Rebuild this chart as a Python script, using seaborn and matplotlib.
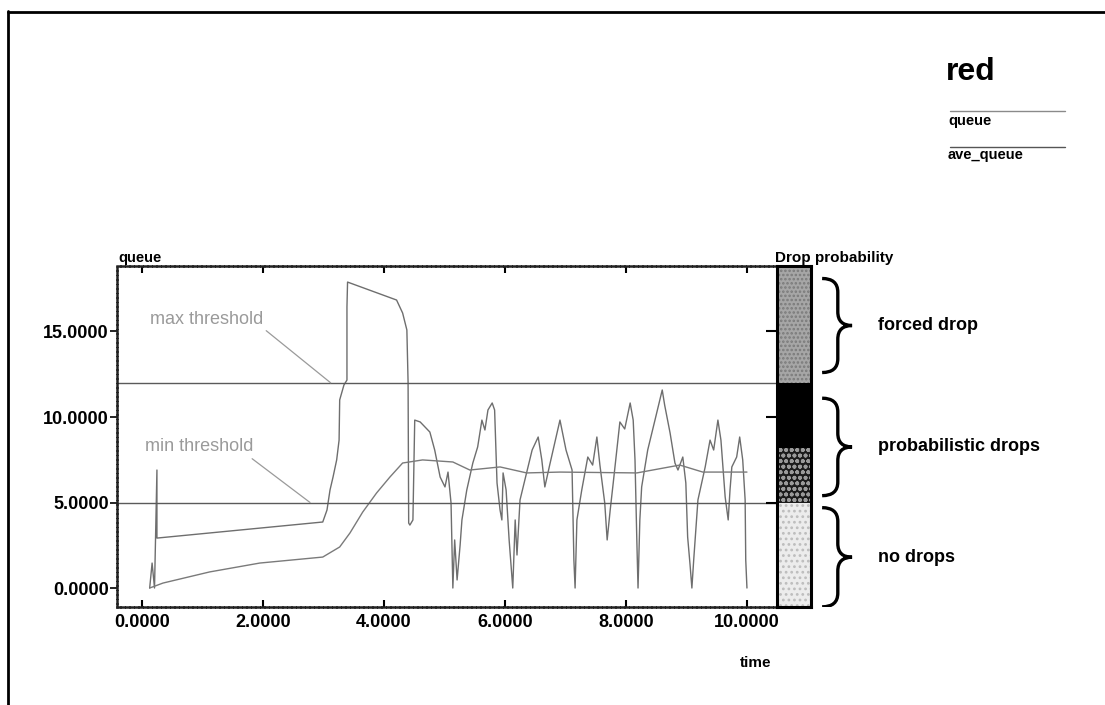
import numpy as np
import pandas as pd
import seaborn as sns
import matplotlib.pyplot as plt
from matplotlib.path import Path
from matplotlib.patches import PathPatch
from matplotlib.lines import Line2D

# queue length over time
queue_t = [0.13, 0.17, 0.21, 0.25, 0.25, 2.99, 3.06, 3.11, 3.16, 3.22, 3.26, 3.27, 3.34, 3.39, 3.39, 3.40,
           4.21, 4.31, 4.38, 4.40, 4.41, 4.43, 4.48, 4.51, 4.60, 4.76, 4.84, 4.93, 5.01, 5.06, 5.11, 5.14,
           5.17, 5.21, 5.26, 5.29, 5.37, 5.47, 5.55, 5.62, 5.67, 5.72, 5.79, 5.83, 5.87, 5.92, 5.95, 5.97,
           6.02, 6.07, 6.13, 6.17, 6.20, 6.25, 6.33, 6.45, 6.55, 6.61, 6.66, 6.74, 6.91, 7.01, 7.11, 7.14,
           7.16, 7.19, 7.27, 7.37, 7.45, 7.52, 7.57, 7.65, 7.69, 7.74, 7.79, 7.90, 7.98, 8.07, 8.12, 8.15,
           8.18, 8.20, 8.23, 8.26, 8.36, 8.48, 8.60, 8.64, 8.73, 8.81, 8.86, 8.94, 8.99, 9.02, 9.06, 9.09,
           9.12, 9.19, 9.31, 9.39, 9.45, 9.52, 9.57, 9.64, 9.69, 9.72, 9.75, 9.83, 9.88, 9.93, 9.97, 9.98, 10.0]
queue_q = [0.0, 1.46, 0.0, 6.90, 2.92, 3.86, 4.56, 5.73, 6.49, 7.49, 8.65, 11.0, 11.87, 12.16, 16.43, 17.89,
           16.84, 16.08, 15.09, 12.05, 3.80, 3.68, 3.98, 9.82, 9.71, 9.12, 8.07, 6.49, 5.91, 6.78, 4.97, 0.0,
           2.81, 0.47, 2.51, 3.98, 5.73, 7.31, 8.25, 9.82, 9.24, 10.41, 10.82, 10.41, 6.14, 4.56, 3.98, 6.73,
           5.73, 2.81, 0.0, 3.98, 1.93, 5.15, 6.32, 8.07, 8.83, 7.49, 5.91, 7.19, 9.82, 8.07, 6.90, 1.64,
           0.0, 3.98, 5.73, 7.66, 7.19, 8.83, 7.19, 4.97, 2.81, 4.56, 6.14, 9.71, 9.30, 10.82, 9.82, 7.49,
           2.81, 0.0, 3.98, 5.91, 8.07, 9.82, 11.58, 10.70, 9.06, 7.31, 6.90, 7.66, 6.14, 2.98, 1.35, 0.0,
           1.64, 5.15, 7.08, 8.65, 8.07, 9.82, 8.65, 5.32, 3.98, 5.73, 7.08, 7.66, 8.83, 7.49, 5.15, 1.64, 0.0]

# average queue
ave_t = [0.13, 0.35, 1.12, 1.95, 2.99, 3.27, 3.44, 3.65, 3.88, 4.10, 4.31, 4.64, 5.14, 5.42, 5.92, 6.36,
         6.91, 8.18, 8.89, 9.27, 10.0]
ave_q = [0.0, 0.29, 0.94, 1.46, 1.81, 2.40, 3.22, 4.44, 5.56, 6.49, 7.31, 7.49, 7.37, 6.90, 7.08, 6.73,
         6.78, 6.73, 7.19, 6.78, 6.78]

min_threshold = 5
max_threshold = 12

# drop probability bar
band_low = [-1.11, 5.0, 8.2, 12.0]
band_high = [5.0, 8.2, 12.0, 18.83]
band_face = ['#ececec', '#1c1c1c', '#000000', '#a6a6a6']
band_hatch = ['...', 'ooo', '', '....']
band_hatchcol = ['#bdbdbd', '#9a9a9a', '#000000', '#7a7a7a']

brace_labels = ['forced drop', 'probabilistic drops', 'no drops']
brace_low = [12.6, 5.4, -1.1]
brace_high = [18.1, 11.1, 4.7]

xticks = [0, 2, 4, 6, 8, 10]
yticks = [0, 5, 10, 15]

sns.set_style('white')
plt.rcParams['font.family'] = ['Liberation Sans Narrow', 'Liberation Sans', 'DejaVu Sans']
plt.rcParams['hatch.linewidth'] = 1.2
plt.rcParams['text.color'] = 'black'
plt.rcParams['xtick.color'] = 'black'
plt.rcParams['ytick.color'] = 'black'

W, H = 1105, 705
fig = plt.figure(figsize=(W / 100, H / 100), dpi=100)

def fx(px):
    return px / W

def fy(py):
    return 1 - py / H

ax = fig.add_axes([fx(117), fy(607), fx(776 - 117), (607 - 266) / H])
ylo, yhi = -1.11, 18.83

df_q = pd.DataFrame({'time': queue_t, 'queue': queue_q})
df_a = pd.DataFrame({'time': ave_t, 'queue': ave_q})
sns.lineplot(data=df_q, x='time', y='queue', sort=False, estimator=None, color='#6e6e6e', lw=1.0, ax=ax)
sns.lineplot(data=df_a, x='time', y='queue', sort=False, estimator=None, color='#7a7a7a', lw=1.0, ax=ax)
ax.axhline(max_threshold, color='#5a5a5a', lw=1.0)
ax.axhline(min_threshold, color='#5a5a5a', lw=1.0)

ax.set_xlim(-0.41, 10.48)
ax.set_ylim(ylo, yhi)
ax.set_xlabel('')
ax.set_ylabel('')
ax.set_xticks(xticks)
ax.set_xticklabels(['%.4f' % v for v in xticks], fontweight='bold', fontsize=13)
ax.set_yticks(yticks)
ax.set_yticklabels(['%.4f' % v for v in yticks], fontweight='bold', fontsize=13)
ax.tick_params(axis='x', top=True, bottom=True, direction='in', length=5, width=1.5, pad=5)
ax.tick_params(axis='y', left=True, direction='out', length=5, width=1.2, pad=1)
for s in ['left', 'top', 'bottom']:
    ax.spines[s].set_linestyle((0, (1, 0.8)))
    ax.spines[s].set_linewidth(1.8)
    ax.spines[s].set_color('#222222')
ax.spines['right'].set_visible(False)

ax.annotate('max threshold', xy=(3.12, max_threshold), xytext=(0.13, 15.7), color='#9a9a9a',
            fontsize=13, family=['Liberation Sans', 'DejaVu Sans'], ha='left', va='center',
            arrowprops=dict(arrowstyle='-', color='#9a9a9a', lw=0.9, relpos=(1, 0), shrinkA=0, shrinkB=0))
ax.annotate('min threshold', xy=(2.78, min_threshold), xytext=(0.05, 8.25), color='#9a9a9a',
            fontsize=13, family=['Liberation Sans', 'DejaVu Sans'], ha='left', va='center',
            arrowprops=dict(arrowstyle='-', color='#9a9a9a', lw=0.9, relpos=(0.95, 0), shrinkA=0, shrinkB=0))

# colour bar for drop probability
cax = fig.add_axes([fx(777), fy(607), fx(34), (607 - 266) / H])
for lo, hi, fc, hc, hcol in zip(band_low, band_high, band_face, band_hatch, band_hatchcol):
    cax.bar(0, hi - lo, bottom=lo, width=1.0, color=fc, hatch=hc, edgecolor=hcol, lw=0)
cax.set_xlim(-0.5, 0.5)
cax.set_ylim(ylo, yhi)
cax.set_xticks([])
cax.set_yticks([5, 10, 15])
cax.set_yticklabels([])
cax.tick_params(axis='y', left=True, direction='out', length=8, width=1.5, color='black')
for s in cax.spines.values():
    s.set_linewidth(2.2)
    s.set_color('black')

# braces and labels
bax = fig.add_axes([fx(815), fy(607), fx(285), (607 - 266) / H])
bax.set_xlim(0, 1)
bax.set_ylim(ylo, yhi)
bax.axis('off')

def brace(a, top, bot, x_end=0.025, x_sp=0.08, x_tip=0.13, r=0.8):
    mid = (top + bot) / 2
    verts = [(x_end, top), (x_sp, top), (x_sp, top - r), (x_sp, mid + r), (x_sp, mid), (x_tip, mid),
             (x_sp, mid), (x_sp, mid - r), (x_sp, bot + r), (x_sp, bot), (x_end, bot)]
    codes = [Path.MOVETO, Path.CURVE3, Path.CURVE3, Path.LINETO, Path.CURVE3, Path.CURVE3,
             Path.CURVE3, Path.CURVE3, Path.LINETO, Path.CURVE3, Path.CURVE3]
    a.add_patch(PathPatch(Path(verts, codes), fill=False, lw=2.4, edgecolor='black'))
    return mid

for lab, lo, hi in zip(brace_labels, brace_low, brace_high):
    m = brace(bax, hi, lo)
    bax.text(0.22, m, lab, fontsize=13, fontweight='bold', ha='left', va='center')

# titles and legend
fig.text(fx(118), fy(258), 'queue', fontsize=10.5, fontweight='bold', ha='left', va='center')
fig.text(fx(775), fy(258), 'Drop probability', fontsize=11, fontweight='bold', ha='left', va='center')
fig.text(fx(756), fy(663), 'time', fontsize=11, fontweight='bold', ha='center', va='center')
fig.text(fx(946), fy(72), 'red', fontsize=23, fontweight='bold', family=['Liberation Sans', 'DejaVu Sans'],
         ha='left', va='center')
fig.add_artist(Line2D([fx(950), fx(1065)], [fy(111), fy(111)], color='#8a8a8a', lw=1.0))
fig.text(fx(948), fy(121), 'queue', fontsize=10.5, fontweight='bold', ha='left', va='center')
fig.add_artist(Line2D([fx(950), fx(1065)], [fy(147), fy(147)], color='#555555', lw=1.0))
fig.text(fx(948), fy(155), 'ave_queue', fontsize=10.5, fontweight='bold', ha='left', va='center')

# page frame
fig.add_artist(Line2D([fx(8), fx(8)], [0, fy(11)], color='black', lw=2))
fig.add_artist(Line2D([fx(8), 1], [fy(12), fy(12)], color='black', lw=2))

fig.savefig('out.png', dpi=100)
